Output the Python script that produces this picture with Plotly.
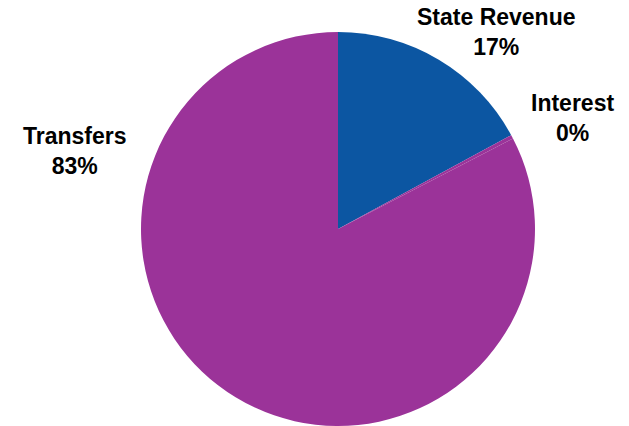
import plotly.graph_objects as go

labels = ["State Revenue", "Interest", "Transfers"]
values = [17.1, 0.3, 82.6]
colors = ["#0c56a2", "#9b3399", "#9b3399"]

# label anchor positions (pixels in a 629x426 canvas)
label_px = [(496, 32), (572, 118), (75, 151)]

W, H = 629, 426
total = sum(values)
pcts = [round(v / total * 100) for v in values]

fig = go.Figure(go.Pie(
    labels=labels,
    values=values,
    sort=False,
    direction="clockwise",
    rotation=0,
    marker=dict(colors=colors, line=dict(width=0)),
    textinfo="none",
    hoverinfo="label+percent",
    domain=dict(x=[140 / W, 536 / W], y=[0 / H, 394 / H]),
    showlegend=False,
))

for lab, p, (px, py) in zip(labels, pcts, label_px):
    fig.add_annotation(
        x=px / W, y=1 - py / H, xref="paper", yref="paper",
        text=f"{lab}<br>{p}%", showarrow=False,
        xanchor="center", yanchor="middle",
        font=dict(family="Liberation Sans, Arial, sans-serif", size=23, color="black", weight="bold"),
    )

fig.update_layout(
    width=W, height=H,
    margin=dict(l=0, r=0, t=0, b=0),
    paper_bgcolor="white", plot_bgcolor="white",
)

fig.write_html("out.html")
